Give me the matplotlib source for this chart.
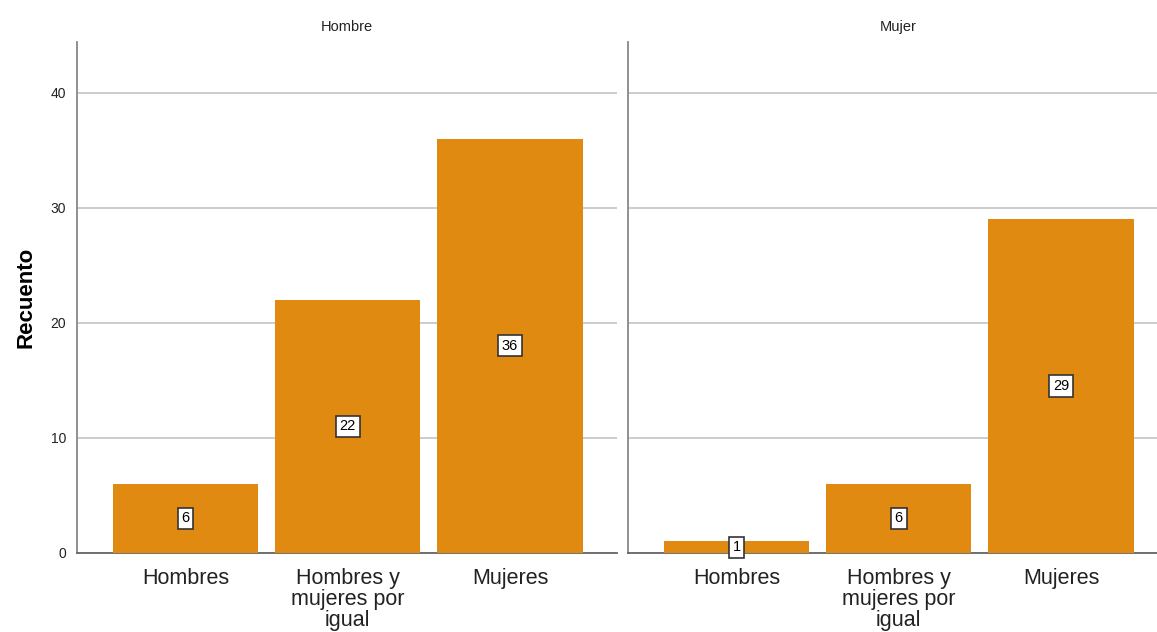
import numpy as np
import matplotlib.pyplot as plt

categories = ["Hombres", "Hombres y\nmujeres por\nigual", "Mujeres"]
panels = ["Hombre", "Mujer"]
hombre_counts = [6, 22, 36]
mujer_counts = [1, 6, 29]

bar_color = "#E08A12"
plt.rcParams['font.family'] = ['Liberation Sans', 'DejaVu Sans']

fig = plt.figure(figsize=(11.57, 6.32), dpi=100)
W, H = 1157, 632

# axes placement in pixels (left, top, right, bottom)
boxes = [(77, 42, 617, 553), (628, 42, 1168, 553)]

for i, (panel, counts) in enumerate(zip(panels, [hombre_counts, mujer_counts])):
    l, t, r, b = boxes[i]
    ax = fig.add_axes([l / W, 1 - b / H, (r - l) / W, (b - t) / H])
    x = np.arange(len(categories))
    ax.bar(x, counts, width=0.895, color=bar_color, zorder=3)
    ax.set_xlim(-0.67, 2.66)
    ax.set_ylim(0, 44.4)
    ax.set_yticks([0, 10, 20, 30, 40])
    ax.yaxis.grid(True, color="#C8C8C8", linewidth=1.3, zorder=0)
    ax.set_axisbelow(True)
    for s in ["top", "right"]:
        ax.spines[s].set_visible(False)
    ax.spines["left"].set_color("#888888")
    ax.spines["left"].set_linewidth(1.3)
    ax.spines["bottom"].set_color("#666666")
    ax.spines["bottom"].set_linewidth(1.3)
    ax.tick_params(axis="y", length=0, labelsize=10, pad=8, colors="#222222")
    ax.tick_params(axis="x", length=0, labelsize=15.5, pad=11, colors="#222222")
    ax.set_xticks(x)
    ax.set_xticklabels(categories, linespacing=1.0)
    if i == 1:
        ax.set_yticklabels([])
    else:
        ax.set_ylabel("Recuento", fontsize=16, fontweight="bold", labelpad=10)
    ax.set_title(panel, fontsize=10.5, pad=8, color="#222222")
    for xi, v in zip(x, counts):
        ax.text(xi, v / 2, str(v), ha="center", va="center", fontsize=10.5,
                zorder=5,
                bbox=dict(boxstyle="square,pad=0.25", facecolor="white",
                          edgecolor="#333333", linewidth=1.2))

fig.savefig("out.png", dpi=100)
